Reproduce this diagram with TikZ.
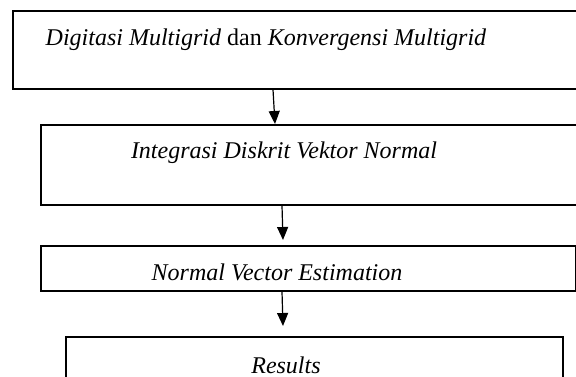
\documentclass[tikz,border=0pt]{standalone}
\usepackage{fontspec}
\setmainfont{Liberation Serif}
\usepackage{tikz}
\usetikzlibrary{arrows.meta}

\begin{document}
\begin{tikzpicture}[x=1pt,y=1pt,
    kotak/.style={draw,line width=1.7pt,inner sep=0pt,anchor=north west},
    teks/.style={anchor=base,inner sep=0pt,font=\fontsize{24}{28}\selectfont},
    panah/.style={line width=1.2pt,-{Triangle[length=13pt,width=11pt]}}]
    \useasboundingbox (0,0) rectangle (576,-377);
    \clip (0,0) rectangle (576,-377);
    % kotak
    \node[kotak,minimum width=600pt,minimum height=78pt] (digitasi) at (12,-10) {};
    \node[kotak,minimum width=600pt,minimum height=80pt] (integrasi) at (40,-124) {};
    \node[kotak,minimum width=535pt,minimum height=45pt] (estimasi) at (40,-245) {};
    \node[kotak,minimum width=497pt,minimum height=70pt] (hasil) at (65,-336) {};
    % teks
    \node[teks] (t1) at (266,-46) {\textit{Digitasi Multigrid} dan \textit{Konvergensi Multigrid}};
    \node[teks] (t2) at (284,-159) {\textit{Integrasi Diskrit Vektor Normal}};
    \node[teks] (t3) at (277,-280) {\textit{Normal Vector Estimation}};
    \node[teks] (t4) at (286,-373) {\textit{Results}};
    % panah
    \draw[panah] ([xshift=261pt]digitasi.south west)
      -- ([xshift=235pt]integrasi.north west);
    \draw[panah] ([xshift=242pt]integrasi.south west)
      -- ([xshift=243pt,yshift=5pt]estimasi.north west);
    \draw[panah] ([xshift=242pt]estimasi.south west)
      -- ([xshift=218pt,yshift=10pt]hasil.north west);
  \end{tikzpicture}
\end{document}
